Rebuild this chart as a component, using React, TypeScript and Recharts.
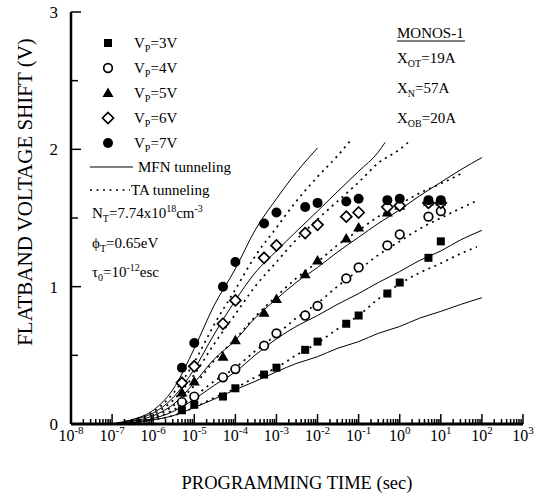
import { ComposedChart, XAxis, YAxis, Line, Scatter, Customized } from 'recharts';

// measured programming times (s) and flatband shifts (V)
const T_MEAS = [5e-6, 1e-5, 5e-5, 1e-4, 5e-4, 1e-3, 5e-3, 1e-2, 5e-2, 1e-1, 5e-1, 1, 5, 10];
const VP3 = [0.10, 0.14, 0.20, 0.26, 0.36, 0.41, 0.54, 0.60, 0.73, 0.79, 0.95, 1.03, 1.21, 1.33];
const VP4 = [0.16, 0.20, 0.34, 0.40, 0.57, 0.66, 0.79, 0.86, 1.06, 1.14, 1.30, 1.38, 1.51, 1.55];
const VP5 = [0.23, 0.31, 0.49, 0.61, 0.81, 0.91, 1.09, 1.19, 1.35, 1.43, 1.54, 1.59, 1.62, 1.62];
const VP6 = [0.30, 0.42, 0.73, 0.90, 1.21, 1.30, 1.39, 1.45, 1.51, 1.54, 1.58, 1.59, 1.61, 1.61];
const VP7 = [0.41, 0.59, 1.00, 1.18, 1.46, 1.54, 1.58, 1.61, 1.62, 1.64, 1.63, 1.64, 1.63, 1.63];

// simulated curves, [time, shift]
const MFN_7V: [number, number][] = [[1e-7, 0], [3e-7, 0.03], [1e-6, 0.10], [3e-6, 0.25], [1e-5, 0.55], [3e-5, 0.86], [1e-4, 1.13], [3e-4, 1.41], [1e-3, 1.64], [3e-3, 1.83], [1e-2, 2.01]];
const TA_7V: [number, number][] = [[1e-7, 0], [3e-7, 0.03], [1e-6, 0.09], [3e-6, 0.22], [1e-5, 0.45], [3e-5, 0.72], [1e-4, 0.98], [3e-4, 1.22], [1e-3, 1.43], [3e-3, 1.62], [1e-2, 1.80], [3e-2, 1.95], [7e-2, 2.08]];
const MFN_6V: [number, number][] = [[1e-7, 0], [3e-7, 0.03], [1e-6, 0.08], [3e-6, 0.19], [1e-5, 0.40], [3e-5, 0.65], [1e-4, 0.90], [3e-4, 1.10], [1e-3, 1.26], [3e-3, 1.40], [1e-2, 1.55], [3e-2, 1.69], [1e-1, 1.84], [3e-1, 1.98], [4.4e-1, 2.05]];
const TA_6V: [number, number][] = [[1e-7, 0], [3e-7, 0.02], [1e-6, 0.07], [3e-6, 0.17], [1e-5, 0.36], [3e-5, 0.58], [1e-4, 0.80], [3e-4, 1.00], [1e-3, 1.18], [3e-3, 1.34], [1e-2, 1.49], [3e-2, 1.62], [1e-1, 1.76], [3e-1, 1.90], [1, 2.00], [1.6, 2.05]];
const MFN_5V: [number, number][] = [[1e-7, 0], [3e-7, 0.02], [1e-6, 0.06], [3e-6, 0.14], [1e-5, 0.30], [3e-5, 0.47], [1e-4, 0.61], [3e-4, 0.77], [1e-3, 0.91], [3e-3, 1.03], [1e-2, 1.14], [3e-2, 1.25], [1e-1, 1.36], [3e-1, 1.46], [1, 1.56], [3, 1.66], [10, 1.76], [30, 1.85], [100, 1.94]];
const TA_5V: [number, number][] = [[1e-7, 0], [3e-7, 0.02], [1e-6, 0.05], [3e-6, 0.13], [1e-5, 0.28], [3e-5, 0.46], [1e-4, 0.62], [3e-4, 0.78], [1e-3, 0.93], [3e-3, 1.06], [1e-2, 1.18], [3e-2, 1.30], [1e-1, 1.41], [3e-1, 1.51], [1, 1.60], [3, 1.68], [10, 1.75], [35, 1.83]];
const MFN_4V: [number, number][] = [[1e-7, 0], [3e-7, 0.01], [1e-6, 0.04], [3e-6, 0.09], [1e-5, 0.18], [3e-5, 0.28], [1e-4, 0.38], [3e-4, 0.50], [1e-3, 0.62], [3e-3, 0.71], [1e-2, 0.79], [3e-2, 0.87], [1e-1, 0.95], [3e-1, 1.03], [1, 1.11], [3, 1.19], [10, 1.26], [30, 1.34], [100, 1.41]];
const TA_4V: [number, number][] = [[1e-7, 0], [3e-7, 0.01], [1e-6, 0.04], [3e-6, 0.10], [1e-5, 0.20], [3e-5, 0.31], [1e-4, 0.41], [3e-4, 0.53], [1e-3, 0.65], [3e-3, 0.77], [1e-2, 0.88], [3e-2, 1.00], [1e-1, 1.12], [3e-1, 1.23], [1, 1.33], [3, 1.42], [10, 1.50], [30, 1.57], [68, 1.62]];
const MFN_3V: [number, number][] = [[1e-7, 0], [3e-7, 0.01], [1e-6, 0.03], [3e-6, 0.06], [1e-5, 0.12], [3e-5, 0.18], [1e-4, 0.25], [3e-4, 0.31], [1e-3, 0.38], [3e-3, 0.44], [1e-2, 0.49], [3e-2, 0.55], [1e-1, 0.60], [3e-1, 0.66], [1, 0.71], [3, 0.77], [10, 0.82], [30, 0.87], [100, 0.92]];
const TA_3V: [number, number][] = [[1e-7, 0], [3e-7, 0.01], [1e-6, 0.03], [3e-6, 0.06], [1e-5, 0.12], [3e-5, 0.19], [1e-4, 0.26], [3e-4, 0.34], [1e-3, 0.41], [3e-3, 0.50], [1e-2, 0.59], [3e-2, 0.69], [1e-1, 0.79], [3e-1, 0.91], [1, 1.02], [3, 1.10], [10, 1.17], [30, 1.24], [75, 1.29]];

const X_DECADES = [1e-8, 1e-7, 1e-6, 1e-5, 1e-4, 1e-3, 1e-2, 1e-1, 1, 10, 100, 1000];
const X_MINOR = [2, 3, 4, 5, 6, 7, 8, 9];
const Y_TICKS = [0, 0.5, 1, 1.5, 2, 2.5, 3];

const FONT = '"Liberation Serif", "Times New Roman", serif';
const DOTTED = '2 4.5';

const xTicks = X_DECADES.flatMap((d, i) =>
  i === X_DECADES.length - 1 ? [d] : [d, ...X_MINOR.map((m) => m * d)]
);
const meas = (vals: number[]) => T_MEAS.map((t, i) => ({ t, v: vals[i] }));
const curve = (pts: [number, number][]) => pts.map(([t, v]) => ({ t, v }));

// marker shapes
const Square = ({ cx, cy }: any) => <rect x={cx - 4} y={cy - 4} width={8} height={8} fill="#000" />;
const OpenCircle = ({ cx, cy }: any) => <circle cx={cx} cy={cy} r={4.3} fill="#fff" stroke="#000" strokeWidth={1.7} />;
const Triangle = ({ cx, cy }: any) => (
  <path d={`M${cx},${cy - 5.5} L${cx + 5.5},${cy + 4} L${cx - 5.5},${cy + 4} Z`} fill="#000" />
);
const Diamond = ({ cx, cy }: any) => (
  <path d={`M${cx},${cy - 5.5} L${cx + 5.5},${cy} L${cx},${cy + 5.5} L${cx - 5.5},${cy} Z`} fill="#fff" stroke="#000" strokeWidth={1.7} />
);
const Dot = ({ cx, cy }: any) => <circle cx={cx} cy={cy} r={5} fill="#000" />;

function XTick({ x, y, payload }: any) {
  const lg = Math.log10(payload.value);
  const e = Math.round(lg);
  const major = Math.abs(lg - e) < 1e-6;
  return (
    <g>
      <line x1={x} x2={x} y1={y} y2={y - (major ? 10 : 5)} stroke="#000" strokeWidth={1.5} />
      {major && (
        <text x={x} y={y + 17} textAnchor="middle" fontSize={16} fontFamily={FONT} fill="#000">
          10<tspan dy={-7} fontSize={11}>{e}</tspan>
        </text>
      )}
    </g>
  );
}

function YTick({ x, y, payload }: any) {
  const v = payload.value;
  const major = Number.isInteger(v);
  return (
    <g>
      <line x1={x} x2={x + (major ? 10 : 7)} y1={y} y2={y} stroke="#000" strokeWidth={1.5} />
      {major && (
        <text x={x - 13} y={y} dy="0.35em" textAnchor="end" fontSize={17} fontFamily={FONT} fill="#000">
          {v}
        </text>
      )}
    </g>
  );
}

function Sub({ children }: any) {
  return <tspan dy={4} fontSize={10}>{children}</tspan>;
}

function Annotations() {
  const rows = [
    { y: 43, v: '3V', M: Square },
    { y: 68, v: '4V', M: OpenCircle },
    { y: 93, v: '5V', M: Triangle },
    { y: 118, v: '6V', M: Diamond },
    { y: 143, v: '7V', M: Dot },
  ];
  return (
    <g fontFamily={FONT} fill="#000" fontSize={15}>
      {rows.map(({ y, v, M }) => (
        <g key={v}>
          <M cx={108} cy={y} />
          <text x={134} y={y + 5}>
            V<Sub>P</Sub><tspan dy={-4}>={v}</tspan>
          </text>
        </g>
      ))}
      <line x1={90} x2={133} y1={167} y2={167} stroke="#000" strokeWidth={1} />
      <text x={138} y={172}>MFN tunneling</text>
      <line x1={90} x2={130} y1={190} y2={190} stroke="#000" strokeWidth={1.6} strokeDasharray={DOTTED} />
      <text x={131} y={195}>TA tunneling</text>
      <text x={92} y={218}>
        N<Sub>T</Sub><tspan dy={-4}>=7.74x10</tspan><tspan dy={-6} fontSize={10}>18</tspan>
        <tspan dy={6}>cm</tspan><tspan dy={-6} fontSize={10}>-3</tspan>
      </text>
      <text x={92} y={248}>
        ϕ<Sub>T</Sub><tspan dy={-4}>=0.65eV</tspan>
      </text>
      <text x={92} y={277}>
        τ<Sub>0</Sub><tspan dy={-4}>=10</tspan><tspan dy={-6} fontSize={10}>-12</tspan>
        <tspan dy={6}>esc</tspan>
      </text>
      <text x={397} y={38}>MONOS-1</text>
      <line x1={397} x2={465} y1={41} y2={41} stroke="#000" strokeWidth={1} />
      <text x={397} y={63}>
        X<Sub>OT</Sub><tspan dy={-4}>=19A</tspan>
      </text>
      <text x={397} y={93}>
        X<Sub>N</Sub><tspan dy={-4}>=57A</tspan>
      </text>
      <text x={397} y={123}>
        X<Sub>OB</Sub><tspan dy={-4}>=20A</tspan>
      </text>
      <text x={297} y={489} textAnchor="middle" fontSize={18.5}>PROGRAMMING TIME (sec)</text>
      <text x={25} y={192} textAnchor="middle" fontSize={21} dy="0.35em" transform="rotate(-90 25 192)">
        FLATBAND VOLTAGE SHIFT (V)
      </text>
    </g>
  );
}

const lineProps = {
  xAxisId: 'b',
  yAxisId: 'l',
  dataKey: 'v',
  type: 'monotone' as const,
  dot: false,
  stroke: '#000',
  isAnimationActive: false,
};

export default function App() {
  return (
    <div style={{ position: 'absolute', left: 0, top: 0, width: 544, height: 498, background: '#fff' }}>
      <ComposedChart width={544} height={498} margin={{ top: 12, right: 21, bottom: 0, left: 0 }}>
        <XAxis
          xAxisId="b"
          dataKey="t"
          type="number"
          scale="log"
          domain={[1e-8, 1e3]}
          allowDataOverflow
          ticks={xTicks}
          interval={0}
          tickSize={0}
          tickMargin={0}
          height={74}
          tick={<XTick />}
          axisLine={{ stroke: '#000', strokeWidth: 3 }}
        />
        <XAxis
          xAxisId="t"
          orientation="top"
          dataKey="t"
          type="number"
          scale="log"
          domain={[1e-8, 1e3]}
          allowDataOverflow
          height={0}
          tick={false}
          tickLine={false}
          axisLine={{ stroke: '#000', strokeWidth: 2 }}
        />
        <YAxis
          yAxisId="l"
          type="number"
          domain={[0, 3]}
          ticks={Y_TICKS}
          interval={0}
          tickSize={0}
          tickMargin={0}
          width={71}
          tick={<YTick />}
          axisLine={{ stroke: '#000', strokeWidth: 2.5 }}
        />
        <YAxis
          yAxisId="r"
          orientation="right"
          type="number"
          domain={[0, 3]}
          width={0}
          tick={false}
          tickLine={false}
          axisLine={{ stroke: '#000', strokeWidth: 2.5 }}
        />

        <Line {...lineProps} data={curve(MFN_7V)} strokeWidth={1} />
        <Line {...lineProps} data={curve(MFN_6V)} strokeWidth={1} />
        <Line {...lineProps} data={curve(MFN_5V)} strokeWidth={1} />
        <Line {...lineProps} data={curve(MFN_4V)} strokeWidth={1} />
        <Line {...lineProps} data={curve(MFN_3V)} strokeWidth={1} />
        <Line {...lineProps} data={curve(TA_7V)} strokeWidth={1.7} strokeDasharray={DOTTED} />
        <Line {...lineProps} data={curve(TA_6V)} strokeWidth={1.7} strokeDasharray={DOTTED} />
        <Line {...lineProps} data={curve(TA_5V)} strokeWidth={1.7} strokeDasharray={DOTTED} />
        <Line {...lineProps} data={curve(TA_4V)} strokeWidth={1.7} strokeDasharray={DOTTED} />
        <Line {...lineProps} data={curve(TA_3V)} strokeWidth={1.7} strokeDasharray={DOTTED} />

        <Scatter xAxisId="b" yAxisId="l" data={meas(VP3)} dataKey="v" shape={Square} isAnimationActive={false} />
        <Scatter xAxisId="b" yAxisId="l" data={meas(VP4)} dataKey="v" shape={OpenCircle} isAnimationActive={false} />
        <Scatter xAxisId="b" yAxisId="l" data={meas(VP5)} dataKey="v" shape={Triangle} isAnimationActive={false} />
        <Scatter xAxisId="b" yAxisId="l" data={meas(VP6)} dataKey="v" shape={Diamond} isAnimationActive={false} />
        <Scatter xAxisId="b" yAxisId="l" data={meas(VP7)} dataKey="v" shape={Dot} isAnimationActive={false} />

        <Customized component={Annotations} />
      </ComposedChart>
    </div>
  );
}
